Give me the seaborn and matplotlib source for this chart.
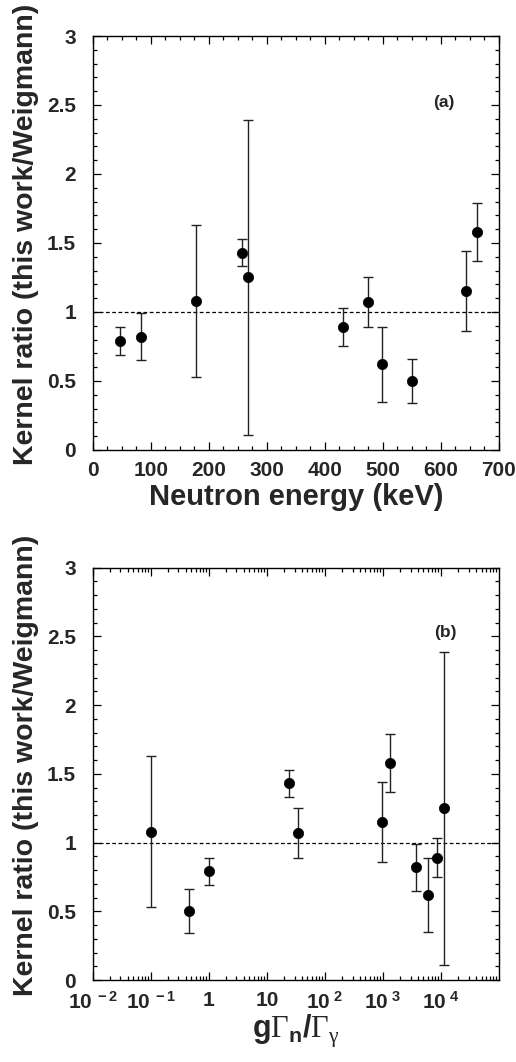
import matplotlib
matplotlib.use("Agg")
import matplotlib.pyplot as plt
import matplotlib.ticker as mticker
import seaborn as sns
import numpy as np
import pandas as pd

# ---- data ----
energy_keV = [47, 84, 178, 258, 267, 431, 475, 499, 551, 643, 662]
gGn_Gg = [1.0, 3660, 0.1, 23.7, 11400, 8400, 35, 6000, 0.447, 980, 1350]
ratio = [0.79, 0.82, 1.08, 1.43, 1.25, 0.89, 1.07, 0.62, 0.50, 1.15, 1.58]
ratio_low = [0.69, 0.65, 0.53, 1.33, 0.11, 0.75, 0.89, 0.35, 0.34, 0.86, 1.37]
ratio_high = [0.89, 0.99, 1.63, 1.53, 2.39, 1.03, 1.25, 0.89, 0.66, 1.44, 1.79]

y_ticks = [0, 0.5, 1, 1.5, 2, 2.5, 3]
y_ticklabels = ["0", "0.5", "1", "1.5", "2", "2.5", "3"]
x_ticks_a = [0, 100, 200, 300, 400, 500, 600, 700]
x_ticks_b = [1e-2, 1e-1, 1, 10, 1e2, 1e3, 1e4]
x_ticklabels_b = [r"$\mathbf{10}^{\mathbf{\ -2}}$", r"$\mathbf{10}^{\mathbf{\ -1}}$", "1", "10",
                  r"$\mathbf{10}^{\mathbf{\ 2}}$", r"$\mathbf{10}^{\mathbf{\ 3}}$", r"$\mathbf{10}^{\mathbf{\ 4}}$"]

ylabel = "Kernel ratio (this work/Weigmann)"
xlabel_a = "Neutron energy (keV)"
xlabel_b = r"$\mathbf{g}\mathsf{\Gamma}_{\mathbf{n}}\mathbf{/}\mathsf{\Gamma}_{\mathsf{\gamma}}$"

df = pd.DataFrame({"E": energy_keV, "G": gGn_Gg, "r": ratio,
                   "lo": ratio_low, "hi": ratio_high})
df["elo"] = df["r"] - df["lo"]
df["ehi"] = df["hi"] - df["r"]

sns.set_theme(style="ticks")
plt.rcParams["font.family"] = ["Liberation Sans", "DejaVu Sans"]
plt.rcParams["mathtext.fontset"] = "custom"
plt.rcParams["mathtext.rm"] = "Liberation Sans"
plt.rcParams["mathtext.bf"] = "Liberation Sans:bold"
plt.rcParams["mathtext.it"] = "Liberation Sans:italic"
plt.rcParams["mathtext.sf"] = "Liberation Serif"

fig = plt.figure(figsize=(5.16, 10.62), dpi=100)
ax_a = fig.add_axes([0.1797, 0.5763, 0.7873, 0.3898])
ax_b = fig.add_axes([0.1797, 0.0772, 0.7873, 0.3882])

def style_axes(ax):
    for s in ax.spines.values():
        s.set_linewidth(1.0)
        s.set_color("black")
    ax.tick_params(which="both", direction="in", top=True, right=True,
                   bottom=True, left=True, color="black", width=0.9)
    ax.tick_params(which="major", length=6)
    ax.tick_params(which="minor", length=3)
    ax.tick_params(axis="y", which="major", labelsize=15, pad=12)
    ax.tick_params(axis="x", which="major", labelsize=15, pad=8)
    ax.set_ylim(0, 3)
    ax.set_yticks(y_ticks)
    ax.set_yticklabels(y_ticklabels, fontweight="bold")
    ax.yaxis.set_minor_locator(mticker.MultipleLocator(0.1))
    ax.axhline(1.0, color="black", lw=0.9, ls=(0, (3, 2)), zorder=1)
    ax.set_ylabel(ylabel, fontsize=20.5, fontweight="bold")
    ax.yaxis.set_label_coords(-0.133, 0.52)
    ax.grid(False)

# panel (a)
ax_a.errorbar(df["E"], df["r"], yerr=[df["elo"], df["ehi"]], fmt="none",
              ecolor="#222222", elinewidth=1.0, capsize=3.6, capthick=1.0, zorder=2)
sns.scatterplot(data=df, x="E", y="r", ax=ax_a, color="black", s=55,
                edgecolor="black", linewidth=0.5, zorder=3, legend=False)
ax_a.set_xlim(0, 700)
ax_a.set_xticks(x_ticks_a)
ax_a.set_xticklabels([str(v) for v in x_ticks_a], fontweight="bold")
ax_a.xaxis.set_minor_locator(mticker.MultipleLocator(25))
style_axes(ax_a)
ax_a.set_xlabel(xlabel_a, fontsize=21, fontweight="bold", labelpad=2)
ax_a.text(605, 2.52, "(a)", fontsize=12.5, fontweight="bold", ha="center", va="center")

# panel (b)
ax_b.errorbar(df["G"], df["r"], yerr=[df["elo"], df["ehi"]], fmt="none",
              ecolor="#222222", elinewidth=1.0, capsize=3.6, capthick=1.0, zorder=2)
sns.scatterplot(data=df, x="G", y="r", ax=ax_b, color="black", s=55,
                edgecolor="black", linewidth=0.5, zorder=3, legend=False)
ax_b.set_xscale("log")
ax_b.set_xlim(1e-2, 1e5)
ax_b.set_xticks(x_ticks_b)
ax_b.set_xticklabels(x_ticklabels_b, fontweight="bold")
ax_b.xaxis.set_minor_locator(mticker.LogLocator(base=10, subs=np.arange(2, 10), numticks=20))
ax_b.xaxis.set_minor_formatter(mticker.NullFormatter())
style_axes(ax_b)
ax_b.set_xlabel(xlabel_b, fontsize=22, labelpad=0)
ax_b.text(1.17e4, 2.53, "(b)", fontsize=12.5, fontweight="bold", ha="center", va="center")

fig.savefig("out.png", dpi=100)
